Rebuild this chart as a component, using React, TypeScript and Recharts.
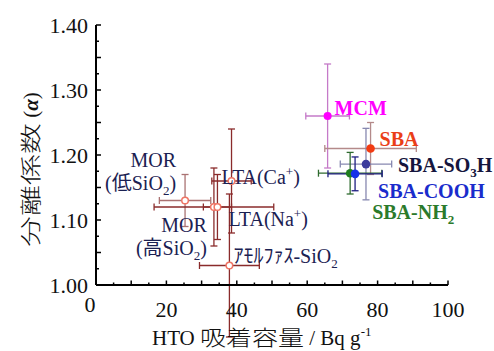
import React from 'react';
import { ScatterChart, Scatter, XAxis, YAxis, ErrorBar } from 'recharts';

// values
const names = ['MOR_low', 'MOR_high', 'LTA_Na', 'LTA_Ca', 'amorphous', 'MCM', 'SBA', 'SBA_SO3H', 'SBA_NH2', 'SBA_COOH'];
const labels = ['MOR\n(低SiO_2)', 'MOR\n(高SiO_2)', 'LTA(Na^+)', 'LTA(Ca^+)', 'ｱﾓﾙﾌｧｽ-SiO_2', 'MCM', 'SBA', 'SBA-SO_3H', 'SBA-NH_2', 'SBA-COOH'];
const htoCapacity = [25.3, 33.5, 34.5, 38.5, 37.9, 65.8, 78.0, 76.7, 72.2, 73.6];
const separationFactor = [1.13, 1.12, 1.12, 1.16, 1.03, 1.26, 1.21, 1.186, 1.172, 1.171];
const capacityError = [7.3, 17, 4, 5.6, 8.5, 6.2, 13, 7.3, 9, 7.7];
const factorError = [0.04, 0.06, 0.05, 0.08, 0.11, 0.08, 0.04, 0.055, 0.032, 0.026];

const xTicks = [0, 5, 10, 15, 20, 25, 30, 35, 40, 45, 50, 55, 60, 65, 70, 75, 80, 85, 90, 95, 100];
const yTicks = [1.0, 1.025, 1.05, 1.075, 1.1, 1.125, 1.15, 1.175, 1.2, 1.225, 1.25, 1.275, 1.3, 1.325, 1.35, 1.375, 1.4];

const SERIF = "Liberation Serif, DejaVu Serif, serif, Noto Sans CJK JP";
const NAVY = '#1b2152';
const OPEN = { fill: '#ffffff', stroke: '#ef7565', r: 3.3, sw: 1.5, color: NAVY, bold: false };

const STYLE: Record<string, any> = {
  MOR_low: { ...OPEN, err: '#aa7272', anchor: 'end', dx: -9, dy: -34 },
  MOR_high: { ...OPEN, err: '#8a2b2b', anchor: 'end', dx: -7, dy: 24.5 },
  LTA_Na: { ...OPEN, err: '#8a2b2b', anchor: 'start', dx: 11, dy: 19 },
  LTA_Ca: { ...OPEN, err: '#8a2b2b', anchor: 'start', dx: -10, dy: 3 },
  amorphous: { ...OPEN, err: '#8a2b2b', anchor: 'start', dx: 4, dy: -2.5 },
  MCM: { fill: '#ff00ff', stroke: 'none', r: 4, sw: 0, err: '#c57ac8', color: '#ff00ff', bold: true, anchor: 'start', dx: 7, dy: -1 },
  SBA: { fill: '#f23b12', stroke: 'none', r: 4.3, sw: 0, err: '#b48a8a', color: '#ea3e18', bold: true, anchor: 'start', dx: 9, dy: -2.5 },
  SBA_SO3H: { fill: '#3b3b9c', stroke: 'none', r: 4.3, sw: 0, err: '#8788b0', color: '#15153d', bold: true, anchor: 'start', dx: 32, dy: 8 },
  SBA_NH2: { fill: '#1f7d1f', stroke: 'none', r: 4.3, sw: 0, err: '#2f6b2f', color: '#2b7a2b', bold: true, anchor: 'start', dx: 22, dy: 46 },
  SBA_COOH: { fill: '#1630e8', stroke: 'none', r: 4.3, sw: 0, err: '#1e1e80', color: '#1a2ccc', bold: true, anchor: 'start', dx: 23, dy: 24 },
};

const FS = 20;
const LINE_H = 23.5;

// "_x" = subscript, "^x" = superscript
const richLine = (line: string) => {
  const out: React.ReactNode[] = [];
  const re = /([_^])(.)/g;
  let last = 0;
  let reset = 0;
  let k = 0;
  let m: RegExpExecArray | null;
  while ((m = re.exec(line))) {
    if (m.index > last) {
      out.push(<tspan key={k++} dy={reset} fontSize={FS}>{line.slice(last, m.index)}</tspan>);
      reset = 0;
    }
    const shift = m[1] === '_' ? 5 : -8;
    out.push(<tspan key={k++} dy={shift + reset} fontSize={13}>{m[2]}</tspan>);
    reset = -shift;
    last = m.index + 2;
  }
  if (last < line.length) out.push(<tspan key={k++} dy={reset} fontSize={FS}>{line.slice(last)}</tspan>);
  return out;
};

const makeLabelShape = (name: string, text: string) => (props: any) => {
  const { cx, cy } = props;
  const s = STYLE[name];
  return (
    <g>
      {text.split('\n').map((ln, i) => (
        <text
          key={i}
          x={cx + s.dx}
          y={cy + s.dy + i * LINE_H}
          textAnchor={s.anchor}
          style={{ fontFamily: SERIF }}
          fontSize={FS}
          fontWeight={s.bold ? 'bold' : 'normal'}
          fill={s.color}
        >
          {richLine(ln)}
        </text>
      ))}
    </g>
  );
};

const makePointShape = (name: string) => (props: any) => {
  const s = STYLE[name];
  return <circle cx={props.cx} cy={props.cy} r={s.r} fill={s.fill} stroke={s.stroke} strokeWidth={s.sw} />;
};

const XTick = (props: any) => {
  const { x, y, payload } = props;
  const v = payload.value as number;
  const long = v % 10 === 0;
  return (
    <g>
      <line x1={x} x2={x} y1={y} y2={y - (long ? 4.5 : 2.5)} stroke="#000" strokeWidth={1.5} />
      {v % 20 === 0 && (
        <text x={v === 0 ? x - 6 : x} y={v === 0 ? y + 27 : y + 32} textAnchor="middle" style={{ fontFamily: SERIF }} fontSize={22} fill="#111">
          {v}
        </text>
      )}
    </g>
  );
};

const YTick = (props: any) => {
  const { x, y, payload } = props;
  const m = Math.round(payload.value * 1000);
  const long = m % 50 === 0;
  return (
    <g>
      <line x1={x} x2={x + (long ? 5 : 3)} y1={y} y2={y} stroke="#000" strokeWidth={1.5} />
      {m % 100 === 0 && (
        <text x={x - 8} y={y + 8} textAnchor="end" style={{ fontFamily: SERIF }} fontSize={22} fill="#111">
          {payload.value.toFixed(2)}
        </text>
      )}
    </g>
  );
};

const xTitle = () => (
  <text x={152} y={345} style={{ fontFamily: SERIF }} fontSize={21} fill="#111">
    <tspan>HTO </tspan>
    <tspan textLength={104} lengthAdjust="spacingAndGlyphs" fontWeight={300}>吸着容量</tspan>
    <tspan> / Bq g</tspan>
    <tspan dy={-9} fontSize={13}>-1</tspan>
  </text>
);

const yTitle = () => (
  <text transform="rotate(-90)" x={-247} y={38} style={{ fontFamily: SERIF }} fontSize={21} fill="#111">
    <tspan textLength={124} lengthAdjust="spacingAndGlyphs" fontWeight={300}>分離係数</tspan>
    <tspan> (</tspan>
    <tspan fontWeight="bold" fontStyle="italic">α</tspan>
    <tspan>)</tspan>
  </text>
);

export default function App() {
  const series = names.map((name, i) => ({
    name,
    label: labels[i],
    data: [{ x: htoCapacity[i], y: separationFactor[i], ex: capacityError[i], ey: factorError[i] }],
  }));

  return (
    <div style={{ position: 'absolute', left: 0, top: 0, width: 494, height: 351, background: '#fff' }}>
      <ScatterChart width={494} height={351} margin={{ top: 25, right: 46, bottom: 0, left: 0 }}>
        <XAxis
          type="number"
          dataKey="x"
          domain={[0, 100]}
          ticks={xTicks}
          interval={0}
          allowDataOverflow
          tick={<XTick />}
          tickLine={false}
          tickSize={0}
          tickMargin={0}
          axisLine={{ stroke: '#000', strokeWidth: 2 }}
          height={66}
          label={xTitle}
        />
        <YAxis
          type="number"
          dataKey="y"
          domain={[1, 1.4]}
          ticks={yTicks}
          interval={0}
          allowDataOverflow
          tick={<YTick />}
          tickLine={false}
          tickSize={0}
          tickMargin={0}
          axisLine={{ stroke: '#000', strokeWidth: 2 }}
          width={96}
          label={yTitle}
        />
        <XAxis xAxisId="lbl" type="number" dataKey="x" domain={[0, 100]} hide />
        <YAxis yAxisId="lbl" type="number" dataKey="y" domain={[1, 1.4]} hide />

        {series.map((s) => (
          <Scatter key={s.name} name={s.name} data={s.data} shape={makePointShape(s.name)} isAnimationActive={false}>
            <ErrorBar dataKey="ex" direction="x" width={3.5} stroke={STYLE[s.name].err} strokeWidth={1.3} />
            <ErrorBar dataKey="ey" direction="y" width={3.5} stroke={STYLE[s.name].err} strokeWidth={1.3} />
          </Scatter>
        ))}

        {series.map((s) => (
          <Scatter
            key={'lbl-' + s.name}
            xAxisId="lbl"
            yAxisId="lbl"
            data={s.data}
            shape={makeLabelShape(s.name, s.label)}
            isAnimationActive={false}
          />
        ))}
      </ScatterChart>
    </div>
  );
}
